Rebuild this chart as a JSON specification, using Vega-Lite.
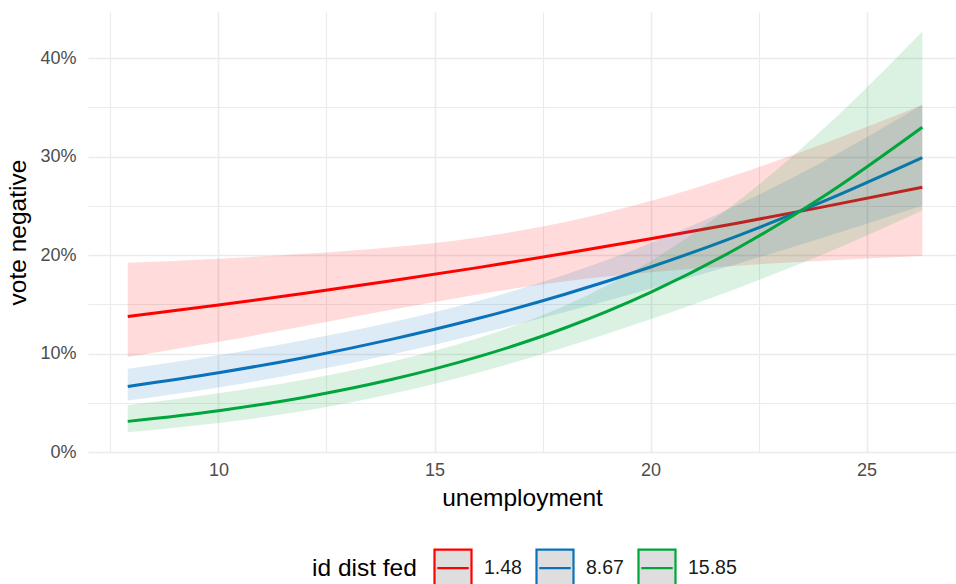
{
  "$schema": "https://vega.github.io/schema/vega-lite/v6.json",
  "autosize": "none",
  "width": 868,
  "height": 440,
  "padding": {"left": 88, "top": 12, "right": 0, "bottom": 132},
  "background": "white",
  "config": {
    "view": {"stroke": null},
    "font": "Liberation Sans",
    "axis": {
      "domain": false,
      "ticks": false,
      "tickSize": 0,
      "labelColor": "#4d4d4d",
      "labelFontSize": 18,
      "titleColor": "#000000",
      "titleFontSize": 24.5,
      "titleFontWeight": "normal",
      "gridColor": "#ebebeb"
    },
    "legend": {
      "symbolFillColor": "#dedede"
    }
  },
  "data": {
    "values": [
      {"g": "1.48", "x": 7.9, "y": 0.1376, "lo": 0.0966, "hi": 0.1922},
      {"g": "1.48", "x": 10, "y": 0.1493, "lo": 0.1119, "hi": 0.1964},
      {"g": "1.48", "x": 12, "y": 0.1612, "lo": 0.1279, "hi": 0.2013},
      {"g": "1.48", "x": 14, "y": 0.1739, "lo": 0.1444, "hi": 0.2080},
      {"g": "1.48", "x": 16, "y": 0.1873, "lo": 0.1601, "hi": 0.2180},
      {"g": "1.48", "x": 18, "y": 0.2016, "lo": 0.1732, "hi": 0.2333},
      {"g": "1.48", "x": 20, "y": 0.2166, "lo": 0.1826, "hi": 0.2549},
      {"g": "1.48", "x": 22, "y": 0.2324, "lo": 0.1893, "hi": 0.2820},
      {"g": "1.48", "x": 24, "y": 0.2490, "lo": 0.1943, "hi": 0.3132},
      {"g": "1.48", "x": 26.29, "y": 0.2690, "lo": 0.1990, "hi": 0.3528},
      {"g": "8.67", "x": 7.9, "y": 0.0666, "lo": 0.0522, "hi": 0.0847},
      {"g": "8.67", "x": 10, "y": 0.0805, "lo": 0.0656, "hi": 0.0984},
      {"g": "8.67", "x": 12, "y": 0.0961, "lo": 0.0810, "hi": 0.1137},
      {"g": "8.67", "x": 14, "y": 0.1144, "lo": 0.0990, "hi": 0.1317},
      {"g": "8.67", "x": 16, "y": 0.1356, "lo": 0.1196, "hi": 0.1534},
      {"g": "8.67", "x": 18, "y": 0.1600, "lo": 0.1420, "hi": 0.1798},
      {"g": "8.67", "x": 20, "y": 0.1879, "lo": 0.1659, "hi": 0.2121},
      {"g": "8.67", "x": 22, "y": 0.2194, "lo": 0.1911, "hi": 0.2506},
      {"g": "8.67", "x": 24, "y": 0.2545, "lo": 0.2178, "hi": 0.2951},
      {"g": "8.67", "x": 26.29, "y": 0.2990, "lo": 0.2504, "hi": 0.3527},
      {"g": "15.85", "x": 7.9, "y": 0.0311, "lo": 0.0201, "hi": 0.0477},
      {"g": "15.85", "x": 10, "y": 0.0420, "lo": 0.0295, "hi": 0.0596},
      {"g": "15.85", "x": 12, "y": 0.0557, "lo": 0.0419, "hi": 0.0737},
      {"g": "15.85", "x": 14, "y": 0.0736, "lo": 0.0588, "hi": 0.0917},
      {"g": "15.85", "x": 16, "y": 0.0966, "lo": 0.0804, "hi": 0.1155},
      {"g": "15.85", "x": 18, "y": 0.1257, "lo": 0.1062, "hi": 0.1483},
      {"g": "15.85", "x": 20, "y": 0.1622, "lo": 0.1348, "hi": 0.1939},
      {"g": "15.85", "x": 22, "y": 0.2067, "lo": 0.1662, "hi": 0.2540},
      {"g": "15.85", "x": 24, "y": 0.2596, "lo": 0.2009, "hi": 0.3284},
      {"g": "15.85", "x": 26.29, "y": 0.3300, "lo": 0.2454, "hi": 0.4273}
    ]
  },
  "encoding": {
    "x": {
      "field": "x",
      "type": "quantitative",
      "scale": {"domain": [6.98, 27.07], "nice": false, "zero": false},
      "axis": {
        "title": "unemployment",
        "values": [7.5, 10, 12.5, 15, 17.5, 20, 22.5, 25],
        "labelExpr": "datum.value % 5 === 0 ? format(datum.value, 'd') : ''",
        "gridWidth": {"condition": {"test": "datum.value % 5 === 0", "value": 1.6}, "value": 1.1},
        "labelPadding": 9,
        "titlePadding": 7,
        "labelFlush": false,
        "labelOverlap": false
      }
    },
    "y": {
      "field": "y", "type": "quantitative", "scale": {"domain": [0, 0.447], "nice": false, "zero": false},
      "axis": {"title": "vote negative", "values": [0, 0.05, 0.1, 0.15, 0.2, 0.25, 0.3, 0.35, 0.4],
        "labelExpr": "round(datum.value*100) % 10 === 0 ? format(datum.value, '.0%') : ''",
        "gridWidth": {"condition": {"test": "round(datum.value*100) % 10 === 0", "value": 1.6}, "value": 1.1},
        "labelPadding": 12, "titlePadding": 9, "labelOverlap": false}
    }
  },
  "layer": [
    {
      "transform": [{"filter": "datum.g === '1.48'"}],
      "mark": {"type": "area", "interpolate": "monotone", "fill": "#ff0000", "fillOpacity": 0.14},
      "encoding": {
        "y": {"field": "lo", "type": "quantitative", "scale": {"domain": [0, 0.447], "nice": false, "zero": false}, "title": "vote negative"},
        "y2": {"field": "hi"}
      }
    },
    {
      "transform": [{"filter": "datum.g === '1.48'"}],
      "mark": {"type": "line", "interpolate": "monotone", "strokeWidth": 3},
      "encoding": {
        "stroke": {"field": "g", "type": "nominal", "scale": {"domain": ["1.48", "8.67", "15.85"], "range": ["#ff0000", "#0a72ba", "#00a53c"]},
          "legend": {
            "title": "id dist fed", "orient": "none", "legendX": 224, "legendY": 536, "direction": "horizontal",
            "titleOrient": "left", "titleFontSize": 24.5, "titleFontWeight": "normal", "titleColor": "#000000",
            "titleBaseline": "middle", "titlePadding": 16, "padding": 0,
            "labelFontSize": 19.5, "labelColor": "#1a1a1a", "labelOffset": 11, "columnPadding": 10,
            "symbolType": "M-1,-1H1V1H-1Z M-0.85,0H0.85", "symbolSize": 1369, "symbolStrokeWidth": 2.2,
            "symbolFillColor": "#dedede"
          }}
      }
    },
    {
      "transform": [{"filter": "datum.g === '8.67'"}],
      "mark": {"type": "area", "interpolate": "monotone", "fill": "#0a72ba", "fillOpacity": 0.14},
      "encoding": {
        "y": {"field": "lo", "type": "quantitative", "scale": {"domain": [0, 0.447], "nice": false, "zero": false}, "title": "vote negative"},
        "y2": {"field": "hi"}
      }
    },
    {
      "transform": [{"filter": "datum.g === '8.67'"}],
      "mark": {"type": "line", "interpolate": "monotone", "strokeWidth": 3},
      "encoding": {
        "stroke": {"field": "g", "type": "nominal", "scale": {"domain": ["1.48", "8.67", "15.85"], "range": ["#ff0000", "#0a72ba", "#00a53c"]}}
      }
    },
    {
      "transform": [{"filter": "datum.g === '15.85'"}],
      "mark": {"type": "area", "interpolate": "monotone", "fill": "#00a53c", "fillOpacity": 0.14},
      "encoding": {
        "y": {"field": "lo", "type": "quantitative", "scale": {"domain": [0, 0.447], "nice": false, "zero": false}, "title": "vote negative"},
        "y2": {"field": "hi"}
      }
    },
    {
      "transform": [{"filter": "datum.g === '15.85'"}],
      "mark": {"type": "line", "interpolate": "monotone", "strokeWidth": 3},
      "encoding": {
        "stroke": {"field": "g", "type": "nominal", "scale": {"domain": ["1.48", "8.67", "15.85"], "range": ["#ff0000", "#0a72ba", "#00a53c"]}}
      }
    }
  ]
}
